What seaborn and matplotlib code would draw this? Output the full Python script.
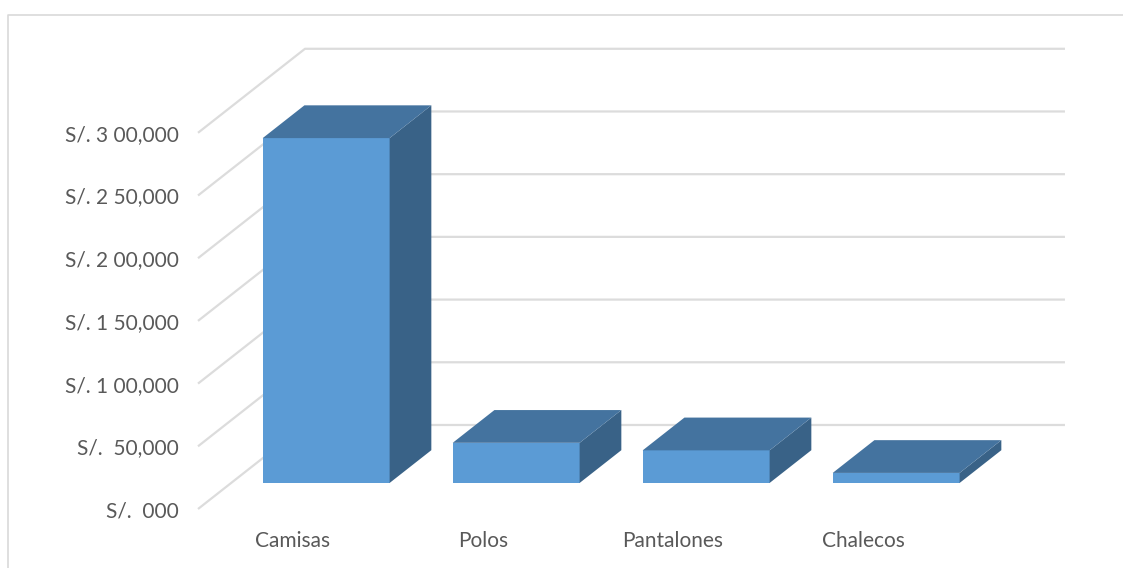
import matplotlib
matplotlib.use("Agg")
import matplotlib.pyplot as plt
from matplotlib.transforms import Affine2D
from matplotlib.patches import Polygon
from matplotlib.lines import Line2D
import seaborn as sns
import pandas as pd

# Sales by garment type
categorias = ["Camisas", "Polos", "Pantalones", "Chalecos"]
ventas = [275000, 32000, 26000, 8000]
marcas_y = [0, 50000, 100000, 150000, 200000, 250000, 300000]
etiquetas_y = ["S/.  000", "S/.  50,000", "S/. 1 00,000", "S/. 1 50,000",
               "S/. 2 00,000", "S/. 2 50,000", "S/. 3 00,000"]

# Colours of the box faces and chart furniture
FRENTE = "#5B9BD5"
TECHO = "#44739F"
LADO = "#396287"
REJILLA = "#DCDCDC"
TEXTO = "#595959"

# Oblique projection of the floor depth (data units for full depth)
PROF_X = 0.563
PROF_Y = 67000
D0, D1 = 0.31, 0.70   # front and back depth of each column

sns.set_theme(style="white")
plt.rcParams["font.family"] = ["Lato", "DejaVu Sans"]

W, H = 1123, 568
fig = plt.figure(figsize=(W / 100, H / 100), dpi=100)
fig.patch.set_facecolor("white")

x0_px, x1_px = 198, 958
y0_px, y1_px = 509, 132.8
ax = fig.add_axes([x0_px / W, (H - y0_px) / H, (x1_px - x0_px) / W, (y0_px - y1_px) / H])
ax.set_facecolor("none")

df = pd.DataFrame({"categoria": categorias, "ventas": ventas})
sns.barplot(data=df, x="categoria", y="ventas", color=FRENTE, width=0.668,
            saturation=1, ax=ax, zorder=3)

ax.set_xlim(-0.5, 3.5)
ax.set_ylim(0, 300000)

# Side wall and back wall gridlines
for v in marcas_y:
    ax.add_line(Line2D([-0.5, -0.5 + PROF_X, 3.5 + PROF_X], [v, v + PROF_Y, v + PROF_Y],
                       color=REJILLA, lw=1.6, clip_on=False, zorder=1,
                       solid_capstyle="butt"))

# Turn each flat bar into a box: shift the front face, add top and side faces
dx0, dy0 = D0 * PROF_X, D0 * PROF_Y
ddx, ddy = (D1 - D0) * PROF_X, (D1 - D0) * PROF_Y
for p in ax.patches[:len(categorias)]:
    x, w, h = p.get_x(), p.get_width(), p.get_height()
    p.set_transform(Affine2D().translate(dx0, dy0) + ax.transData)
    p.set_clip_on(False)
    p.set_edgecolor("none")
    xl, xr = x + dx0, x + w + dx0
    techo = [(xl, h + dy0), (xr, h + dy0), (xr + ddx, h + dy0 + ddy), (xl + ddx, h + dy0 + ddy)]
    lado = [(xr, dy0), (xr + ddx, dy0 + ddy), (xr + ddx, h + dy0 + ddy), (xr, h + dy0)]
    ax.add_patch(Polygon(lado, closed=True, facecolor=LADO, edgecolor="none",
                         clip_on=False, zorder=3))
    ax.add_patch(Polygon(techo, closed=True, facecolor=TECHO, edgecolor="none",
                         clip_on=False, zorder=3))

ax.set_yticks(marcas_y)
ax.set_yticklabels(etiquetas_y)
ax.set_xlabel("")
ax.set_ylabel("")
ax.tick_params(axis="both", length=0, colors=TEXTO, labelsize=15)
ax.tick_params(axis="y", pad=14)
ax.tick_params(axis="x", pad=16)
for s in ax.spines.values():
    s.set_visible(False)
ax.grid(False)

# Chart area border
fig.add_artist(Line2D([8 / W, 8 / W, 1.0], [0.0, (H - 15) / H, (H - 15) / H],
                      transform=fig.transFigure, color="#D9D9D9", lw=1.2))

fig.savefig("out.png", dpi=100, facecolor="white")
